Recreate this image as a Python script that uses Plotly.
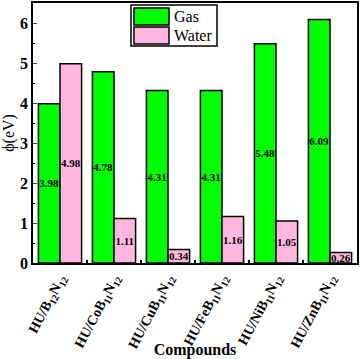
import plotly.graph_objects as go

compounds = ["HU/B<sub>12</sub>N<sub>12</sub>", "HU/CoB<sub>11</sub>N<sub>12</sub>",
             "HU/CuB<sub>11</sub>N<sub>12</sub>", "HU/FeB<sub>11</sub>N<sub>12</sub>",
             "HU/NiB<sub>11</sub>N<sub>12</sub>", "HU/ZnB<sub>11</sub>N<sub>12</sub>"]
gas = [3.98, 4.78, 4.31, 4.31, 5.48, 6.09]
water = [4.98, 1.11, 0.34, 1.16, 1.05, 0.26]

GREEN = "#00FF00"
PINK = "#FFB6E0"
FONT = "Times New Roman, Liberation Serif, serif"

fig = go.Figure()
for name, vals, col in [("Gas", gas, GREEN), ("Water", water, PINK)]:
    fig.add_trace(go.Bar(
        x=compounds, y=vals, name=name,
        marker=dict(color=col, line=dict(color="black", width=1.5)),
        text=[f"<b>{v:.2f}</b>" for v in vals], textposition="inside",
        insidetextanchor="middle", textangle=0,
        textfont=dict(family=FONT, size=11, color="black"),
        showlegend=False,
    ))

fig.update_layout(
    width=360, height=359,
    margin=dict(l=33, r=3, t=3, b=96),
    barmode="group", bargap=0.2, bargroupgap=0,
    plot_bgcolor="white", paper_bgcolor="white",
    font=dict(family=FONT, color="black"),
    uniformtext=dict(minsize=10, mode="show"),
)
fig.update_xaxes(
    automargin=False,
    showline=True, linecolor="black", linewidth=1.5, mirror=True,
    tickangle=-62, tickfont=dict(family=FONT, size=14, color="black"),
    ticks="inside", tickson="boundaries", ticklen=3, tickwidth=1.5, tickcolor="black",
    tickprefix="<b>", ticksuffix="</b>",
    title=dict(text="<b>Compounds</b>", font=dict(size=16), standoff=0),
)
fig.update_yaxes(
    automargin=False,
    range=[0, 6.5], dtick=1, showline=True, linecolor="black", linewidth=1.5,
    mirror=True, showgrid=False, zeroline=False,
    ticks="inside", ticklen=4, tickwidth=1.2,
    minor=dict(ticks="inside", ticklen=2, dtick=0.5, tickcolor="black"),
    tickfont=dict(family=FONT, size=16, color="black"),
    tickprefix="<b>", ticksuffix="</b>",
    title=dict(text="ϕ(eV)", font=dict(size=16), standoff=2),
)

# legend drawn by hand so the swatches match the original size
W, H = 324, 260
def px(x): return (x - 33) / W
def py(y): return 1 - (y - 3) / H
fig.add_shape(type="rect", xref="paper", yref="paper",
              x0=px(131), x1=px(217), y0=py(46), y1=py(5),
              line=dict(color="black", width=1.5), fillcolor="white")
for i, (name, col) in enumerate([("Gas", GREEN), ("Water", PINK)]):
    top = 7 + i * 19
    fig.add_shape(type="rect", xref="paper", yref="paper",
                  x0=px(134), x1=px(169), y0=py(top + 18), y1=py(top + 1),
                  line=dict(color="black", width=1.5), fillcolor=col)
    fig.add_annotation(xref="paper", yref="paper", x=px(172), y=py(top + 9.5),
                       text=name, showarrow=False, xanchor="left", yanchor="middle",
                       font=dict(family=FONT, size=16, color="black"))

# drop the default page margin so the figure sits at the window corner
fig.write_html("out.html", config={"displayModeBar": False},
               post_script="document.body.style.margin='0';")
